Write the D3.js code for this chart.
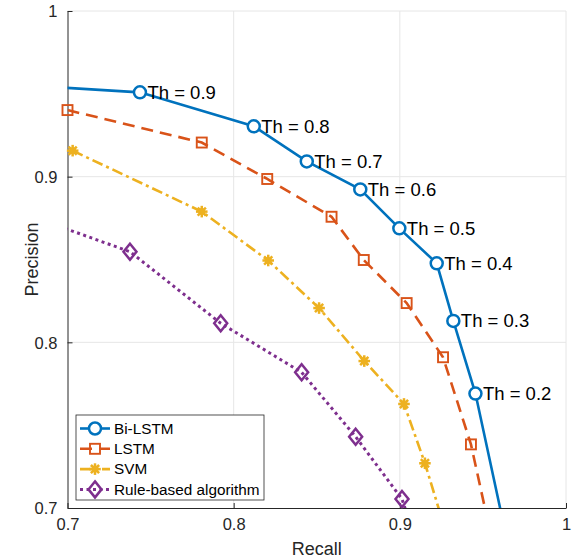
<!DOCTYPE html>
<html>
<head>
<meta charset="utf-8">
<script src="https://cdn.jsdelivr.net/npm/d3@7"></script>
<style>
  body { margin: 0; background: #fff; }
  text { font-family: "Liberation Sans", Arial, sans-serif; }
</style>
</head>
<body>
<div id="chart"></div>
<script>
// Recall / precision (first/last points sit outside the axes and get clipped)
var biRecall = [0.66, 0.7436, 0.8121, 0.8440, 0.8762, 0.8997, 0.9222, 0.9322, 0.9455, 0.97];
var biPrecision = [0.956, 0.9509, 0.9304, 0.9092, 0.8923, 0.8688, 0.8477, 0.8129, 0.7691, 0.655];
var biLabels = ["", "Th = 0.9", "Th = 0.8", "Th = 0.7", "Th = 0.6", "Th = 0.5", "Th = 0.4", "Th = 0.3", "Th = 0.2", ""];

var lstmRecall = [0.70, 0.7808, 0.8202, 0.8589, 0.8783, 0.9041, 0.9260, 0.9428, 0.958];
var lstmPrecision = [0.9402, 0.9206, 0.8986, 0.8758, 0.8497, 0.8237, 0.7910, 0.7384, 0.669];

var svmRecall = [0.7031, 0.7808, 0.8208, 0.8514, 0.8786, 0.9025, 0.9151, 0.93];
var svmPrecision = [0.9157, 0.8789, 0.8494, 0.8207, 0.7887, 0.7628, 0.7270, 0.678];

var ruleRecall = [0.68, 0.7376, 0.7922, 0.8409, 0.8734, 0.9013, 0.91];
var rulePrecision = [0.8754, 0.8547, 0.8115, 0.7819, 0.7430, 0.7054, 0.679];

var seriesNames = ["Bi-LSTM", "LSTM", "SVM", "Rule-based algorithm"];
var seriesColors = ["#0072BD", "#D95319", "#EDB120", "#7E2F8E"];
var xTicks = [0.7, 0.8, 0.9, 1];
var yTicks = [0.7, 0.8, 0.9, 1];

var width = 573, height = 560;
var margin = { top: 11, right: 7, bottom: 52, left: 67.5 };

var svg = d3.select("#chart").append("svg")
  .attr("width", width)
  .attr("height", height);

var x = d3.scaleLinear().domain([0.7, 1]).range([margin.left, width - margin.right]);
var y = d3.scaleLinear().domain([0.7, 1]).range([height - margin.bottom, margin.top]);

// grid
var grid = svg.append("g").attr("stroke", "#e6e6e6").attr("stroke-width", 1);
xTicks.slice(1).forEach(function (t) {
  grid.append("line").attr("x1", x(t)).attr("x2", x(t)).attr("y1", y(0.7)).attr("y2", y(1));
});
yTicks.slice(1).forEach(function (t) {
  grid.append("line").attr("x1", x(0.7)).attr("x2", x(1)).attr("y1", y(t)).attr("y2", y(t));
});

// axes (MATLAB style: inward ticks)
var xAxis = d3.axisBottom(x).tickValues(xTicks).tickSizeInner(-5).tickSizeOuter(0).tickPadding(10)
  .tickFormat(function (d) { return d === 1 ? "1" : d3.format(".1f")(d); });
var yAxis = d3.axisLeft(y).tickValues(yTicks).tickSizeInner(-5).tickSizeOuter(0).tickPadding(10)
  .tickFormat(function (d) { return d === 1 ? "1" : d3.format(".1f")(d); });

var gx = svg.append("g").attr("transform", "translate(0," + y(0.7) + ")").call(xAxis);
var gy = svg.append("g").attr("transform", "translate(" + x(0.7) + ",0)").call(yAxis);
[gx, gy].forEach(function (g) {
  g.select(".domain").attr("stroke", "#262626").attr("stroke-width", 1);
  g.selectAll(".tick line").attr("stroke", "#262626");
  g.selectAll(".tick text").attr("fill", "#262626").attr("font-size", "16.5px")
    .attr("font-family", "Liberation Sans, Arial, sans-serif");
});
gy.selectAll(".tick text").attr("dy", "0.36em");

svg.append("text")
  .attr("x", x(0.85)).attr("y", 555)
  .attr("text-anchor", "middle").attr("font-size", "18px").attr("fill", "#262626")
  .text("Recall");
svg.append("text")
  .attr("transform", "translate(38," + y(0.85) + ") rotate(-90)")
  .attr("text-anchor", "middle").attr("font-size", "18px").attr("fill", "#262626")
  .text("Precision");

// clip for lines
svg.append("defs").append("clipPath").attr("id", "plot-clip")
  .append("rect")
  .attr("x", x(0.7)).attr("y", y(1))
  .attr("width", x(1) - x(0.7)).attr("height", y(0.7) - y(1));

var series = [
  { recall: biRecall, precision: biPrecision, dash: null, marker: "circle", lw: 2.6 },
  { recall: lstmRecall, precision: lstmPrecision, dash: "12,7", marker: "square", lw: 2.6 },
  { recall: svmRecall, precision: svmPrecision, dash: "11,4,3,4", marker: "asterisk", lw: 2.6 },
  { recall: ruleRecall, precision: rulePrecision, dash: "3,3.5", marker: "diamond", lw: 3 }
];

var line = d3.line().x(function (d) { return x(d[0]); }).y(function (d) { return y(d[1]); });

function drawMarker(g, kind, cx, cy, color) {
  if (kind === "circle") {
    g.append("circle").attr("cx", cx).attr("cy", cy).attr("r", 6)
      .attr("fill", "#fff").attr("stroke", color).attr("stroke-width", 2.5);
  } else if (kind === "square") {
    g.append("rect").attr("x", cx - 5).attr("y", cy - 5).attr("width", 10).attr("height", 10)
      .attr("fill", "none").attr("stroke", color).attr("stroke-width", 1.9);
  } else if (kind === "diamond") {
    g.append("path").attr("d", "M" + cx + "," + (cy - 8) + "L" + (cx + 6.5) + "," + cy +
      "L" + cx + "," + (cy + 8) + "L" + (cx - 6.5) + "," + cy + "Z")
      .attr("fill", "none").attr("stroke", color).attr("stroke-width", 2.5);
  } else {
    var r = 5.8;
    [0, 45, 90, 135].forEach(function (a) {
      var rad = a * Math.PI / 180;
      g.append("line")
        .attr("x1", cx - r * Math.cos(rad)).attr("y1", cy - r * Math.sin(rad))
        .attr("x2", cx + r * Math.cos(rad)).attr("y2", cy + r * Math.sin(rad))
        .attr("stroke", color).attr("stroke-width", 2.5);
    });
    g.append("circle").attr("cx", cx).attr("cy", cy).attr("r", 3.5).attr("fill", color);
  }
}

// draw from the back series to the front one
for (var i = series.length - 1; i >= 0; i--) {
  var s = series[i];
  var pts = s.recall.map(function (r, j) { return [r, s.precision[j]]; });
  svg.append("path")
    .attr("clip-path", "url(#plot-clip)")
    .attr("d", line(pts))
    .attr("fill", "none")
    .attr("stroke", seriesColors[i])
    .attr("stroke-width", s.lw)
    .attr("stroke-dasharray", s.dash);
  var mg = svg.append("g");
  pts.forEach(function (p) {
    if (p[0] >= 0.7 && p[0] <= 1 && p[1] >= 0.7 && p[1] <= 1) {
      drawMarker(mg, s.marker, x(p[0]), y(p[1]), seriesColors[i]);
    }
  });
}

// threshold labels on Bi-LSTM
biLabels.forEach(function (lab, j) {
  if (!lab) return;
  svg.append("text")
    .attr("x", x(biRecall[j]) + 7.5)
    .attr("y", y(biPrecision[j]))
    .attr("dy", "0.35em")
    .attr("font-size", "18.5px")
    .attr("fill", "#000")
    .text(lab);
});

// legend
var legend = svg.append("g").attr("transform", "translate(76,415)");
legend.append("rect").attr("width", 188).attr("height", 85)
  .attr("fill", "#fff").attr("stroke", "#262626").attr("stroke-width", 0.8);
seriesNames.forEach(function (name, i) {
  var ly = 13.5 + i * 20.3;
  var g = legend.append("g");
  g.append("line").attr("x1", 4).attr("x2", 34).attr("y1", ly).attr("y2", ly)
    .attr("stroke", seriesColors[i]).attr("stroke-width", series[i].lw)
    .attr("stroke-dasharray", series[i].dash);
  drawMarker(g, series[i].marker, 19, ly, seriesColors[i]);
  g.append("text").attr("x", 38).attr("y", ly).attr("dy", "0.35em")
    .attr("font-size", "15.3px").attr("fill", "#000").text(name);
});
</script>
</body>
</html>
